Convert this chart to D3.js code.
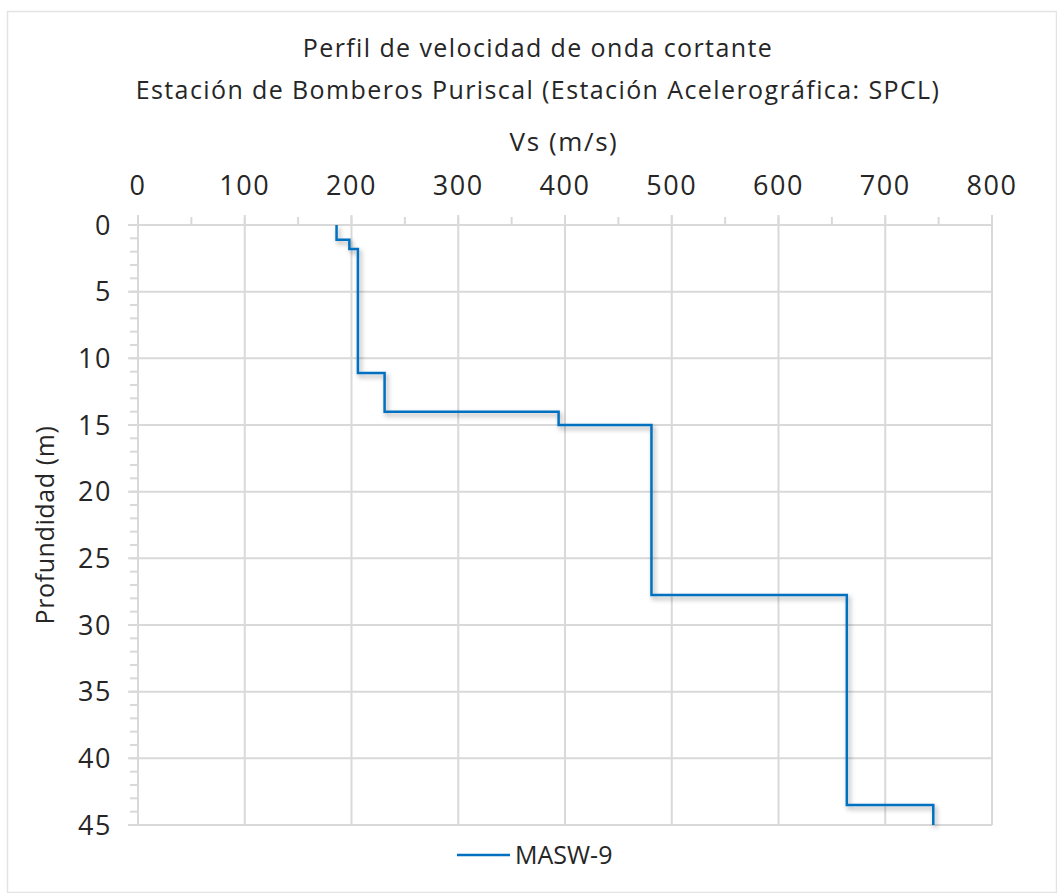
<!DOCTYPE html>
<html>
<head>
<meta charset="utf-8">
<script src="https://cdn.jsdelivr.net/npm/d3@7"></script>
<style>
  body { margin: 0; background: #fff; }
  text { font-family: "Open Sans", "DejaVu Sans", sans-serif; fill: #262626; }
</style>
</head>
<body>
<div id="chart"></div>
<script>
// step profile: Vs (m/s) vs depth (m)
const vs    = [186, 186, 198, 198, 206, 206, 231, 231, 394, 394, 481, 481, 664, 664, 745, 745];
const depth = [0, 1.1, 1.1, 1.8, 1.8, 11.1, 11.1, 14.0, 14.0, 15.0, 15.0, 27.75, 27.75, 43.5, 43.5, 45];
const xTicks = [0, 100, 200, 300, 400, 500, 600, 700, 800];
const yTicks = [0, 5, 10, 15, 20, 25, 30, 35, 40, 45];
const seriesName = "MASW-9";

const W = 1057, H = 893;
const margin = {top: 225, left: 138, right: 65, bottom: 68};
const w = W - margin.left - margin.right, h = H - margin.top - margin.bottom;

const svg = d3.select("#chart").append("svg")
  .attr("width", W).attr("height", H);

const defs = svg.append("defs");
const f = defs.append("filter").attr("id", "shadow")
  .attr("x", "-5%").attr("y", "-5%").attr("width", "115%").attr("height", "115%");
f.append("feDropShadow").attr("dx", 2).attr("dy", 3).attr("stdDeviation", 2.5)
  .attr("flood-color", "#000").attr("flood-opacity", 0.35);

// outer chart border
svg.append("rect").attr("x", 7.5).attr("y", 11.5)
  .attr("width", W - 8).attr("height", H - 12)
  .attr("fill", "none").attr("stroke", "#e3e3e3").attr("stroke-width", 1.5);

const x = d3.scaleLinear().domain([0, 800]).range([0, w]);
const y = d3.scaleLinear().domain([0, 45]).range([0, h]);

const g = svg.append("g").attr("transform", `translate(${margin.left},${margin.top})`);

// minor ticks
g.append("g").selectAll("line").data(d3.range(0, 46, 1))
  .join("line")
  .attr("x1", -8).attr("x2", 0)
  .attr("y1", d => y(d)).attr("y2", d => y(d))
  .attr("stroke", "#d9d9d9").attr("stroke-width", 2);
g.append("g").selectAll("line").data(d3.range(0, 801, 50))
  .join("line")
  .attr("y1", -8).attr("y2", 0)
  .attr("x1", d => x(d)).attr("x2", d => x(d))
  .attr("stroke", "#d9d9d9").attr("stroke-width", 2);

// gridlines
g.append("g").selectAll("line").data(xTicks)
  .join("line")
  .attr("x1", d => x(d)).attr("x2", d => x(d))
  .attr("y1", -10).attr("y2", h)
  .attr("stroke", "#d9d9d9").attr("stroke-width", 2);
g.append("g").selectAll("line").data(yTicks)
  .join("line")
  .attr("x1", -10).attr("x2", w)
  .attr("y1", d => y(d)).attr("y2", d => y(d))
  .attr("stroke", "#d9d9d9").attr("stroke-width", 2);

// tick labels
g.append("g").selectAll("text").data(xTicks)
  .join("text")
  .attr("x", d => x(d)).attr("y", -30)
  .attr("text-anchor", "middle")
  .style("font-size", "27px").style("letter-spacing", "1.5px")
  .text(d => d);
g.append("g").selectAll("text").data(yTicks)
  .join("text")
  .attr("x", -26).attr("y", d => y(d)).attr("dy", "0.36em")
  .attr("text-anchor", "end")
  .style("font-size", "27px").style("letter-spacing", "1.5px")
  .text(d => d);

// data line
const pts = vs.map((v, i) => [v, depth[i]]);
g.append("path")
  .datum(pts)
  .attr("d", d3.line().x(d => x(d[0])).y(d => y(d[1])))
  .attr("fill", "none")
  .attr("stroke", "#0070c0")
  .attr("stroke-width", 2.5)
  .attr("filter", "url(#shadow)");

// titles
svg.append("text").attr("x", 538).attr("y", 57).attr("text-anchor", "middle")
  .style("font-size", "25px").style("letter-spacing", "1.4px")
  .text("Perfil de velocidad de onda cortante");
svg.append("text").attr("x", 538).attr("y", 99).attr("text-anchor", "middle")
  .style("font-size", "25px").style("letter-spacing", "1.4px")
  .text("Estación de Bomberos Puriscal (Estación Acelerográfica: SPCL)");
svg.append("text").attr("x", 564).attr("y", 151).attr("text-anchor", "middle")
  .style("font-size", "26px").style("letter-spacing", "1.6px").text("Vs (m/s)");
svg.append("text")
  .attr("transform", `translate(54,${margin.top + h / 2}) rotate(-90)`)
  .attr("text-anchor", "middle")
  .style("font-size", "25px").style("letter-spacing", "0.6px").text("Profundidad (m)");

// legend
svg.append("line").attr("x1", 457).attr("x2", 510).attr("y1", 855).attr("y2", 855)
  .attr("stroke", "#0070c0").attr("stroke-width", 2.5);
svg.append("text").attr("x", 515).attr("y", 855).attr("dy", "0.36em")
  .style("font-size", "25px").text(seriesName);
</script>
</body>
</html>
